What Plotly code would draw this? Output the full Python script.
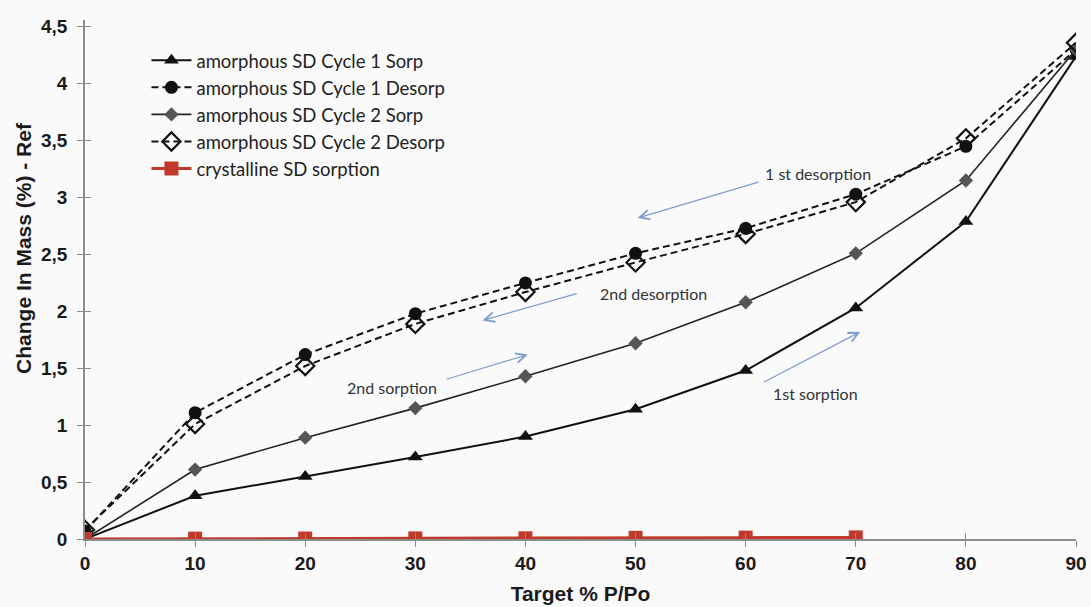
import plotly.graph_objects as go

# Target relative pressure (% P/Po)
rh = [0, 10, 20, 30, 40, 50, 60, 70, 80, 90]
rh_cryst = [0, 10, 20, 30, 40, 50, 60, 70]

# Change in mass (%) for each isotherm branch
amorph_c1_sorp = [0.0, 0.38, 0.55, 0.72, 0.90, 1.14, 1.48, 2.03, 2.79, 4.24]
amorph_c1_desorp = [0.07, 1.11, 1.62, 1.98, 2.25, 2.51, 2.73, 3.03, 3.45, 4.30]
amorph_c2_sorp = [0.0, 0.61, 0.89, 1.15, 1.43, 1.72, 2.08, 2.51, 3.15, 4.30]
amorph_c2_desorp = [0.08, 1.01, 1.52, 1.89, 2.17, 2.43, 2.68, 2.96, 3.52, 4.36]
cryst_sorp = [0.0, 0.003, 0.004, 0.005, 0.006, 0.010, 0.012, 0.014]

y_ticks = [0, 0.5, 1, 1.5, 2, 2.5, 3, 3.5, 4, 4.5]
y_tick_text = ["0", "0,5", "1", "1,5", "2", "2,5", "3", "3,5", "4", "4,5"]
x_ticks = [0, 10, 20, 30, 40, 50, 60, 70, 80, 90]

LEGEND_FONT = "Lato, 'Open Sans', sans-serif"
AXIS_FONT = "'Liberation Sans', Arial, sans-serif"

fig = go.Figure()

fig.add_trace(go.Scatter(
    x=rh, y=amorph_c1_sorp, name="amorphous SD Cycle 1 Sorp",
    mode="lines+markers",
    line=dict(color="#111111", width=2),
    marker=dict(symbol="triangle-up", size=13, color="#111111"),
))
fig.add_trace(go.Scatter(
    x=rh, y=amorph_c1_desorp, name="amorphous SD Cycle 1 Desorp",
    mode="lines+markers",
    line=dict(color="#111111", width=2, dash="7px,4px"),
    marker=dict(symbol="circle", size=13, color="#111111"),
))
fig.add_trace(go.Scatter(
    x=rh, y=amorph_c2_sorp, name="amorphous SD Cycle 2 Sorp",
    mode="lines+markers",
    line=dict(color="#222222", width=1.6),
    marker=dict(symbol="diamond", size=11, color="#555555"),
))
fig.add_trace(go.Scatter(
    x=rh, y=amorph_c2_desorp, name="amorphous SD Cycle 2 Desorp",
    mode="lines+markers",
    line=dict(color="#111111", width=2, dash="7px,4px"),
    marker=dict(symbol="diamond-open", size=14, color="#111111",
                line=dict(width=2.2, color="#111111")),
))
fig.add_trace(go.Scatter(
    x=rh_cryst, y=cryst_sorp, name="crystalline SD sorption",
    mode="lines+markers",
    line=dict(color="#c0392b", width=3),
    marker=dict(symbol="square", size=14, color="#c0392b"),
))

# Secondary axes carry inward ticks so the tick marks cross the axis lines
fig.update_layout(
    xaxis2=dict(overlaying="x", range=[0, 90], tickvals=x_ticks, ticks="inside",
                ticklen=6, tickcolor="#8c8c8c", showticklabels=False,
                showgrid=False, zeroline=False, side="bottom", anchor="y",
                automargin=False),
    yaxis2=dict(overlaying="y", range=[0, 4.56], tickvals=y_ticks, ticks="inside",
                ticklen=6, tickcolor="#8c8c8c", showticklabels=False,
                showgrid=False, zeroline=False, side="left", anchor="x",
                automargin=False),
)
fig.add_trace(go.Scatter(x=[None], y=[None], xaxis="x2", yaxis="y2",
                         showlegend=False, hoverinfo="skip"))

annotation_font = dict(family=LEGEND_FONT, size=16, color="#333333")
arrow_color = "#7f9bd0"
notes = [
    ("1 st desorption", 66.6, 3.21, 61.3, 3.14, 50.2, 2.82),
    ("2nd desorption", 51.6, 2.16, 44.8, 2.16, 36.1, 1.92),
    ("2nd sorption", 27.9, 1.33, 32.7, 1.40, 40.2, 1.62),
    ("1st sorption", 66.3, 1.28, 61.5, 1.37, 70.4, 1.82),
]
for text, tx, ty, x0, y0, x1, y1 in notes:
    fig.add_annotation(x=tx, y=ty, text=text, showarrow=False, font=annotation_font,
                       xref="x", yref="y")
    fig.add_annotation(x=x1, y=y1, ax=x0, ay=y0, xref="x", yref="y", axref="x", ayref="y",
                       text="", showarrow=True, arrowhead=5, arrowsize=1.6,
                       arrowwidth=1.2, arrowcolor=arrow_color, standoff=0, startstandoff=0)

fig.add_annotation(
    text="<b>Change In Mass (%) - Ref</b>", textangle=-90,
    x=-0.062, y=0.56, xref="paper", yref="paper", xanchor="center", yanchor="middle",
    showarrow=False, font=dict(family=AXIS_FONT, size=21, color="#1a1a1a"),
)

fig.update_layout(
    width=1091, height=607,
    margin=dict(l=85, r=15, t=20, b=68, autoexpand=False),
    paper_bgcolor="#fafafa",
    plot_bgcolor="#fafafa",
    showlegend=True,
    legend=dict(
        x=0.062, y=0.958, xanchor="left", yanchor="top",
        bgcolor="rgba(0,0,0,0)",
        font=dict(family=LEGEND_FONT, size=18.5, color="#222222"),
        itemwidth=40, tracegroupgap=0,
    ),
    xaxis=dict(
        range=[0, 90], tickvals=x_ticks, ticks="outside", ticklen=6,
        tickcolor="#8c8c8c", showline=True, linecolor="#8c8c8c", linewidth=1.5,
        showgrid=False, zeroline=False, automargin=False,
        tickfont=dict(family=AXIS_FONT, size=19, color="#1a1a1a", weight="bold"),
        title=dict(text="<b>Target % P/Po</b>", standoff=14,
                   font=dict(family=AXIS_FONT, size=21, color="#1a1a1a")),
    ),
    yaxis=dict(
        range=[0, 4.56], tickvals=y_ticks, ticktext=y_tick_text, ticks="outside",
        ticklen=6, tickcolor="#8c8c8c", showline=True, linecolor="#8c8c8c",
        linewidth=1.5, showgrid=False, zeroline=False, ticklabelstandoff=6,
        automargin=False,
        tickfont=dict(family=AXIS_FONT, size=19, color="#1a1a1a", weight="bold"),
    ),
)

fig.write_html("out.html")
